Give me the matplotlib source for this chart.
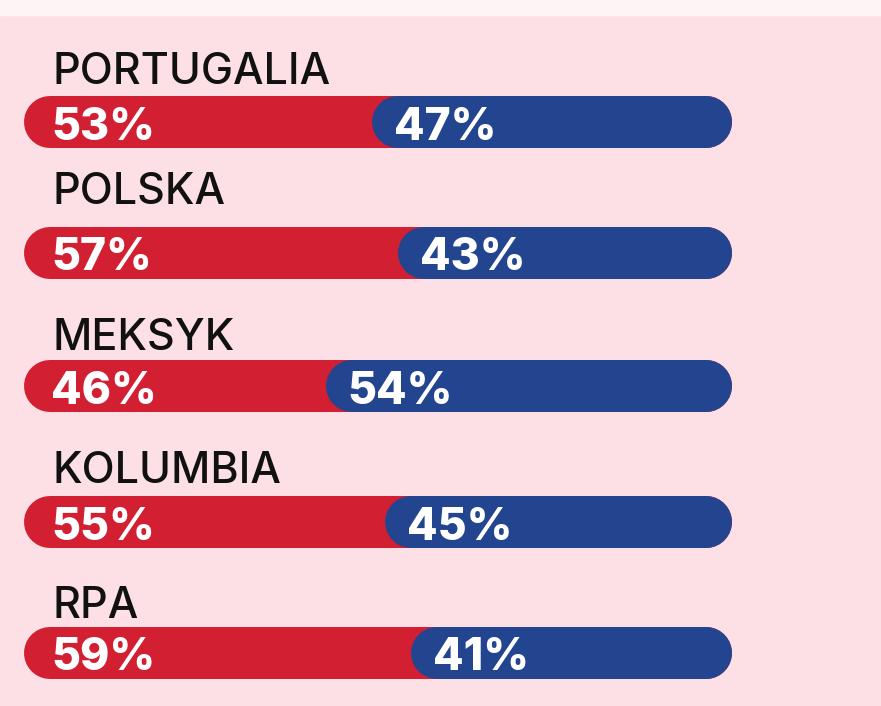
import matplotlib
matplotlib.use("Agg")
from matplotlib import pyplot as plt

# data
countries = ["PORTUGALIA", "POLSKA", "MEKSYK", "KOLUMBIA", "RPA"]
red_share = [53, 57, 46, 55, 59]
blue_share = [47, 43, 54, 45, 41]

# layout (pixels from top)
bar_y = [122, 253, 386, 522, 653]
name_y = [68, 188, 334, 467, 602]

RED = "#d21f32"
BLUE = "#23458f"
BG = "#fce0e5"

W, H, DPI = 881, 706, 100
fig = plt.figure(figsize=(W / DPI, H / DPI), dpi=DPI)
fig.patch.set_facecolor(BG)
ax = fig.add_axes([0, 0, 1, 1])
ax.set_facecolor(BG)

# x in percent: 0 -> 50 px, 100 -> 706 px
px0, px100 = 50, 706
scale = (px100 - px0) / 100.0
ax.set_xlim(-px0 / scale, (W - px0) / scale)
ax.set_ylim(H, 0)
ax.axis("off")

# light strip at top
ax.axhspan(0, 15, color="#fdf5f5", zorder=0)

lw = 52 * 72 / DPI
for i, name in enumerate(countries):
    y = bar_y[i]
    r = red_share[i]
    ax.plot([0, 100], [y, y], color=RED, lw=lw, solid_capstyle="round", zorder=2)
    ax.plot([r, 100], [y, y], color=BLUE, lw=lw, solid_capstyle="round", zorder=3)
    ax.text(3 / scale, name_y[i], name, fontsize=31, fontweight="medium",
            family="Inter", color="#111111", va="center_baseline", ha="left")
    ax.text(1 / scale, y + 1, f"{r}%", fontsize=32, fontweight="heavy", family="Inter",
            color="white", va="center_baseline", ha="left", zorder=4)
    ax.text(r - 4 / scale, y + 1, f"{blue_share[i]}%", fontsize=32,
            fontweight="heavy", family="Inter", color="white", va="center_baseline",
            ha="left", zorder=4)

fig.savefig("out.png", dpi=DPI, facecolor=BG)
